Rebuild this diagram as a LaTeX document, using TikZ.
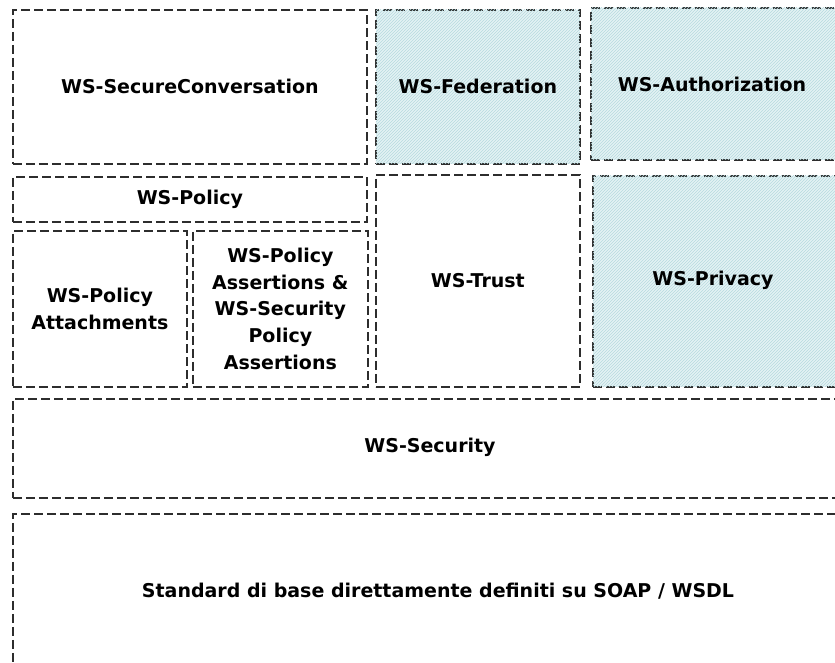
\documentclass[tikz,border=0pt]{standalone}
\usepackage{fontspec}
\setmainfont{DejaVu Sans}
\usepackage{tikz}
\usetikzlibrary{patterns}
\definecolor{hatchbg}{RGB}{228,242,244}
\definecolor{hatchln}{RGB}{182,218,223}
\definecolor{dashgray}{RGB}{45,45,45}
\newcommand{\wsfont}{\fontsize{19}{26.7}\selectfont\bfseries}
\tikzset{
  wsblock/.style={rectangle, draw=dashgray, line width=1.7pt, dash pattern=on 9pt off 4pt,
    inner sep=0pt, anchor=north west, align=center, font=\wsfont},
  wslabel/.style={font=\wsfont, inner sep=0pt},
  wshatch/.style={fill=hatchbg, postaction={pattern=north east lines, pattern color=hatchln}}
}

\begin{document}
\begin{tikzpicture}[x=1pt,y=-1pt]
\clip (0,0) rectangle (835,663);
\fill[white] (0,0) rectangle (835,663);
% top row
\node[wsblock, minimum width=354pt, minimum height=154pt] (secconv) at (12,9) {WS-SecureConversation};
\node[wsblock, wshatch, minimum width=204pt, minimum height=154pt] (federation) at (375,9) {WS-Federation};
\node[wsblock, wshatch, minimum width=260pt, minimum height=152pt] (authz) at (590,7) {};
\node[wslabel] (authzlbl) at (712,84) {WS-Authorization};
% middle row
\node[wsblock, minimum width=354pt, minimum height=45pt] (policy) at (12,176) {WS-Policy};
\node[wsblock, minimum width=174pt, minimum height=156pt] (attach) at (12,230) {WS-Policy\\Attachments};
\node[wsblock, minimum width=175pt, minimum height=156pt] (assert) at (192,230) {WS-Policy\\Assertions \&\\WS-Security\\Policy\\Assertions};
\node[wsblock, minimum width=204pt, minimum height=212pt] (trust) at (375,174) {WS-Trust};
\node[wsblock, wshatch, minimum width=260pt, minimum height=211pt] (privacy) at (592,175) {};
\node[wslabel] (privacylbl) at (713,280) {WS-Privacy};
% base layers
\node[wsblock, minimum width=840pt, minimum height=99pt] (security) at (12,398) {};
\node[wslabel] (securitylbl) at (430,447) {WS-Security};
\node[wsblock, minimum width=840pt, minimum height=170pt] (soap) at (12,513) {};
\node[wslabel] (soaplbl) at (438,591) {Standard di base direttamente definiti su SOAP / WSDL};
\end{tikzpicture}
\end{document}
